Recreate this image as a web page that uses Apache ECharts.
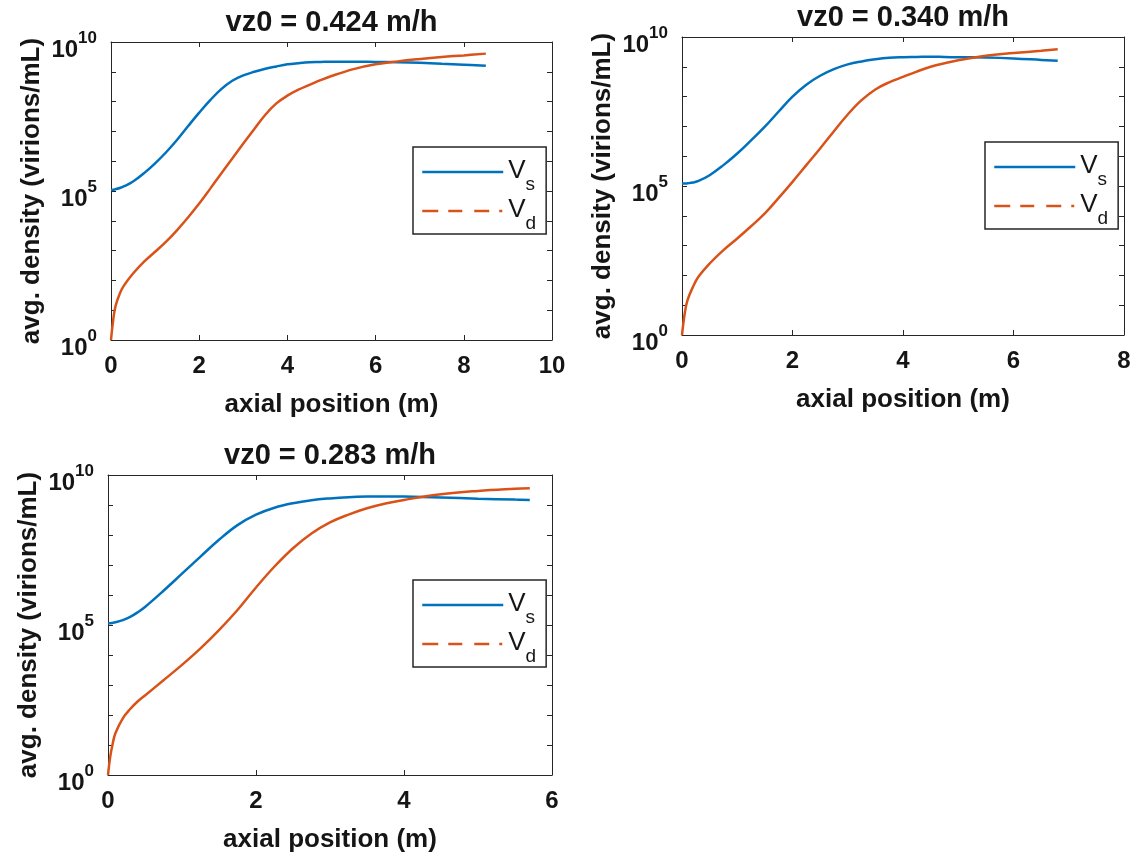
<!DOCTYPE html>
<html><head><meta charset="utf-8">
<script src="https://cdn.jsdelivr.net/npm/echarts@6/dist/echarts.min.js"></script>
<style>html,body{margin:0;padding:0;background:#fff}#c{width:1137px;height:861px}</style>
</head><body><div id="c"></div>
<script>
// Panel titles
const titles = ['vz0 = 0.424 m/h', 'vz0 = 0.340 m/h', 'vz0 = 0.283 m/h'];
const xAxisName = 'axial position (m)';
const yAxisName = 'avg. density (virions/mL)';
const seriesNames = ['Vs', 'Vd'];
const xMaxes = [10, 8, 6];
const yTickLabelExps = [0, 5, 10];

// Panel 1 (vz0 = 0.424 m/h): axial positions and log10 of densities
const x1 = [0, 0.05, 0.1, 0.2, 0.3, 0.5, 0.75, 1, 1.25, 1.5, 1.75, 2, 2.25, 2.5, 2.75, 3, 3.25, 3.5, 3.75, 4, 4.25, 4.5, 4.75, 5, 5.5, 6, 6.5, 7, 7.5, 8, 8.5];
const vsLog1 = [5.03, 5.04, 5.06, 5.1, 5.16, 5.32, 5.6, 5.93, 6.3, 6.72, 7.18, 7.63, 8.05, 8.42, 8.7, 8.88, 9.0, 9.1, 9.18, 9.25, 9.29, 9.32, 9.33, 9.34, 9.34, 9.33, 9.32, 9.3, 9.27, 9.24, 9.2];
const vdLog1 = [0, 0.67, 1.12, 1.56, 1.84, 2.23, 2.63, 2.96, 3.3, 3.69, 4.12, 4.58, 5.08, 5.59, 6.09, 6.59, 7.08, 7.56, 7.94, 8.2, 8.4, 8.56, 8.72, 8.86, 9.09, 9.25, 9.35, 9.43, 9.5, 9.55, 9.61];

// Panel 2 (vz0 = 0.340 m/h)
const x2 = [0, 0.05, 0.1, 0.2, 0.3, 0.5, 0.75, 1, 1.25, 1.5, 1.75, 2, 2.25, 2.5, 2.75, 3, 3.25, 3.5, 3.75, 4, 4.25, 4.5, 4.75, 5, 5.5, 6, 6.5, 6.8];
const vsLog2 = [5.08, 5.08, 5.09, 5.12, 5.17, 5.36, 5.7, 6.09, 6.53, 6.99, 7.5, 8.0, 8.4, 8.7, 8.92, 9.08, 9.18, 9.25, 9.3, 9.32, 9.33, 9.34, 9.33, 9.32, 9.31, 9.28, 9.23, 9.2];
const vdLog2 = [0, 0.73, 1.17, 1.62, 1.96, 2.4, 2.85, 3.24, 3.65, 4.08, 4.6, 5.14, 5.7, 6.26, 6.84, 7.4, 7.88, 8.24, 8.48, 8.66, 8.84, 9.0, 9.12, 9.22, 9.37, 9.46, 9.54, 9.59];

// Panel 3 (vz0 = 0.283 m/h)
const x3 = [0, 0.03, 0.06, 0.1, 0.2, 0.3, 0.4, 0.5, 0.75, 1, 1.25, 1.5, 1.75, 2, 2.25, 2.5, 2.75, 3, 3.25, 3.5, 3.75, 4, 4.5, 5, 5.5, 5.7];
const vsLog3 = [5.06, 5.06, 5.07, 5.09, 5.16, 5.27, 5.42, 5.6, 6.14, 6.71, 7.28, 7.84, 8.33, 8.68, 8.91, 9.06, 9.16, 9.22, 9.26, 9.28, 9.285, 9.28, 9.25, 9.21, 9.18, 9.17];
const vdLog3 = [0, 0.61, 1.0, 1.39, 1.89, 2.2, 2.45, 2.65, 3.16, 3.67, 4.22, 4.83, 5.5, 6.25, 6.95, 7.56, 8.05, 8.42, 8.68, 8.89, 9.05, 9.17, 9.36, 9.47, 9.54, 9.56];

const panels = [
  {x: x1, vs: vsLog1, vd: vdLog1},
  {x: x2, vs: vsLog2, vd: vdLog2},
  {x: x3, vs: vsLog3, vd: vdLog3}
];

const FONT = 'Liberation Sans';
const AX = '#262626';
const TXT = '#151515';
const BLUE = '#0072BD';
const ORANGE = '#D95319';
const grids = [
  {left: 111, top: 42, width: 441, height: 298},
  {left: 682, top: 37, width: 442, height: 298},
  {left: 108, top: 475, width: 444, height: 300}
];

const toPairs = (xs, logs) => xs.map((x, i) => [x, Math.pow(10, logs[i])]);

const option = {
  animation: false,
  backgroundColor: '#fff',
  title: [], grid: [], xAxis: [], yAxis: [], legend: [], series: []
};

const axisLine = {show: true, onZero: false, lineStyle: {color: AX, width: 1}};
const axisTick = {show: true, inside: true, length: 5, lineStyle: {color: AX, width: 1}};

grids.forEach((g, i) => {
  option.grid.push(Object.assign({outerBoundsMode: 'none', containLabel: false}, g));
  option.title.push({
    text: titles[i], left: g.left + g.width / 2, top: g.top - 34, textAlign: 'center', padding: 0,
    textStyle: {fontFamily: FONT, fontWeight: 'bold', fontSize: 29, color: TXT}
  });
});
// bottom x axes
grids.forEach((g, i) => {
  option.xAxis.push({
    gridIndex: i, type: 'value', position: 'bottom', min: 0, max: xMaxes[i], interval: 2,
    name: xAxisName, nameLocation: 'middle', nameGap: 52,
    nameTextStyle: {fontFamily: FONT, fontWeight: 'bold', fontSize: 26, color: TXT},
    axisLine, axisTick,
    axisLabel: {fontFamily: FONT, fontWeight: 'bold', fontSize: 24, color: TXT, margin: 14},
    splitLine: {show: false}
  });
});
// top x axes (box)
grids.forEach((g, i) => {
  option.xAxis.push({
    gridIndex: i, type: 'value', position: 'top', min: 0, max: xMaxes[i], interval: 2,
    axisLine, axisTick, axisLabel: {show: false}, splitLine: {show: false}
  });
});
const yRich = {
  b: {fontFamily: FONT, fontWeight: 'bold', fontSize: 24, color: TXT, verticalAlign: 'top', lineHeight: 24, padding: [8, 0, 0, 0]},
  s: {fontFamily: FONT, fontWeight: 'bold', fontSize: 17, color: TXT, verticalAlign: 'top', lineHeight: 17}
};
grids.forEach((g, i) => {
  option.yAxis.push({
    gridIndex: i, type: 'log', logBase: 10, position: 'left', min: 1, max: 1e10, interval: 1,
    name: yAxisName, nameLocation: 'middle', nameGap: 66,
    nameTextStyle: {fontFamily: FONT, fontWeight: 'bold', fontSize: 26, color: TXT},
    axisLine, axisTick: Object.assign({interval: 0}, axisTick),
    axisLabel: {
      interval: 0, margin: 14,
      formatter: v => {
        const e = Math.round(Math.log10(v));
        return yTickLabelExps.indexOf(e) >= 0 ? '{b|10}{s|' + e + '}' : '';
      },
      rich: yRich
    },
    minorTick: {show: false}, splitLine: {show: false}
  });
});
grids.forEach((g, i) => {
  option.yAxis.push({
    gridIndex: i, type: 'log', logBase: 10, position: 'right', min: 1, max: 1e10, interval: 1,
    axisLine, axisTick: Object.assign({interval: 0}, axisTick),
    axisLabel: {show: false, interval: 0}, minorTick: {show: false}, splitLine: {show: false}
  });
});
grids.forEach((g, i) => {
  const p = panels[i];
  option.series.push({
    name: seriesNames[0], type: 'line', xAxisIndex: i, yAxisIndex: i,
    data: toPairs(p.x, p.vs), symbol: 'none', showSymbol: false, smooth: 0.4,
    lineStyle: {color: BLUE, width: 2.5}, itemStyle: {color: BLUE}
  });
  option.series.push({
    name: seriesNames[1], type: 'line', xAxisIndex: i, yAxisIndex: i,
    data: toPairs(p.x, p.vd), symbol: 'none', showSymbol: false, smooth: 0.4,
    lineStyle: {color: ORANGE, width: 2.5}, itemStyle: {color: ORANGE}
  });
  option.legend.push({
    left: g.left + g.width - 139, top: g.top + 105,
    orient: 'vertical', selectedMode: false,
    padding: [11, 10, 1, 8], itemGap: 3, itemWidth: 81, itemHeight: 14,
    borderColor: AX, borderWidth: 1.5, backgroundColor: '#fff',
    itemStyle: {opacity: 0, color: 'rgba(0,0,0,0)', borderWidth: 0},
    lineStyle: {width: 2.5},
    data: [
      {name: seriesNames[0], lineStyle: {width: 2.5}},
      {name: seriesNames[1], lineStyle: {width: 2.5, type: [16, 10, 14, 12, 15, 10, 3, 20]}}
    ],
    formatter: n => '{v|V}{s|' + n.slice(1) + '}',
    textStyle: {
      fontFamily: FONT, fontSize: 26, color: TXT,
      rich: {
        v: {fontFamily: FONT, fontSize: 26, color: TXT, verticalAlign: 'top', lineHeight: 28},
        s: {fontFamily: FONT, fontSize: 19, color: TXT, verticalAlign: 'top', lineHeight: 19, padding: [17, 0, 0, 0]}
      }
    }
  });
});

const chart = echarts.init(document.getElementById('c'), null, {renderer: 'canvas'});
chart.setOption(option);
</script>
</body></html>
